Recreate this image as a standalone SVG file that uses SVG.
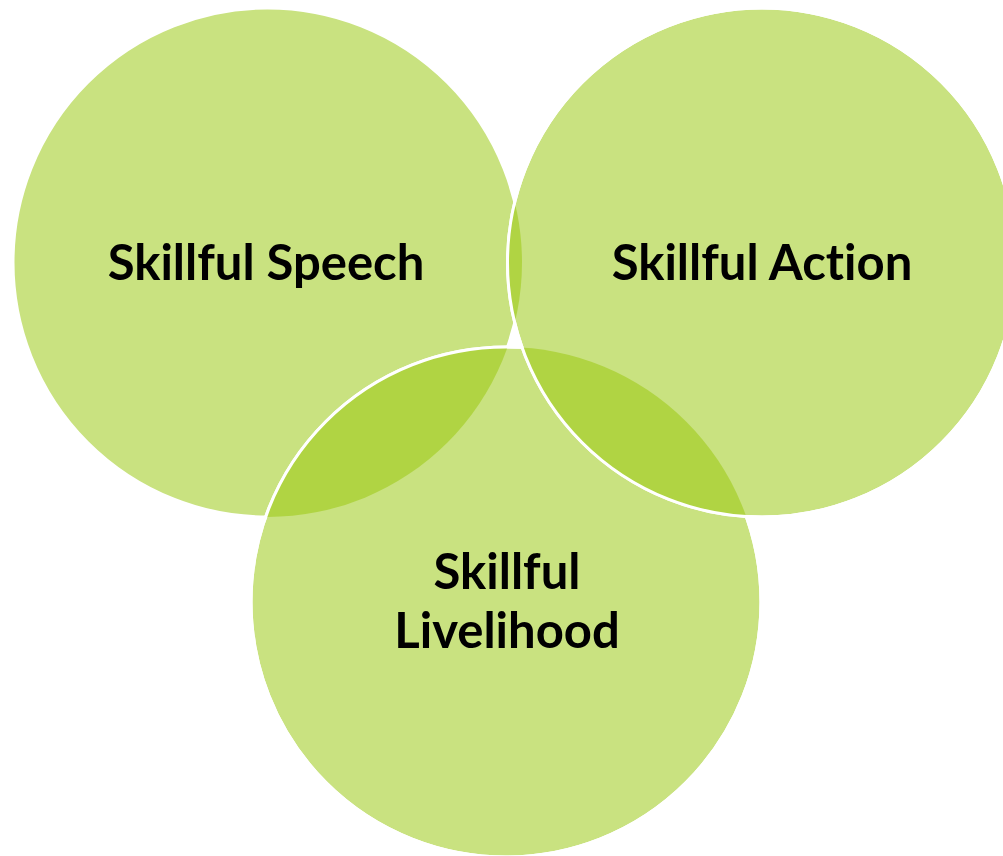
<svg xmlns="http://www.w3.org/2000/svg" width="1003" height="856" viewBox="0 0 1003 856">
  <style>
    .disc { fill: #C9E280; stroke: #FFFFFF; stroke-width: 3; }
    .lens { fill: #B0D443; stroke: none; }
    .rim { fill: none; stroke: #FFFFFF; stroke-width: 3; }
    .label { font-family: "Lato", "DejaVu Sans", sans-serif; font-weight: bold; font-size: 49px; font-variant-ligatures: none; fill: #000000; text-anchor: middle; }
  </style>
  <defs>
    <clipPath id="clip-speech"><circle cx="267.5" cy="262.5" r="254.5"/></clipPath>
    <clipPath id="clip-action"><circle cx="762" cy="262.5" r="254.5"/></clipPath>
    <mask id="outside-action" maskUnits="userSpaceOnUse" x="0" y="0" width="1003" height="856">
      <rect x="0" y="0" width="1003" height="856" fill="#FFFFFF"/>
      <circle cx="762" cy="262.5" r="254.5" fill="#000000"/>
    </mask>
  </defs>

  <rect x="0" y="0" width="1003" height="856" fill="#FFFFFF"/>

  <g id="node-speech">
    <circle class="disc" cx="267.5" cy="262.5" r="254.5"/>
    <text class="label" x="266" y="280">Skillful Speech</text>
  </g>

  <g id="node-livelihood">
    <circle class="disc" cx="506" cy="602" r="255"/>
    <text class="label" x="507" y="589">Skillful</text>
    <text class="label" x="507" y="648">Livelihood</text>
  </g>

  <g id="node-action">
    <circle class="disc" cx="762" cy="262.5" r="254.5"/>
    <text class="label" x="762" y="280">Skillful Action</text>
  </g>

  <!-- overlapping regions, then the outlines that sit on top -->
  <g id="overlaps">
    <circle class="lens" cx="762" cy="262.5" r="254.5" clip-path="url(#clip-speech)"/>
    <circle class="lens" cx="506" cy="602" r="255" clip-path="url(#clip-speech)"/>
    <circle class="lens" cx="506" cy="602" r="255" clip-path="url(#clip-action)"/>
    <circle class="rim" cx="506" cy="602" r="255" mask="url(#outside-action)"/>
    <circle class="rim" cx="762" cy="262.5" r="254.5"/>
  </g>
</svg>
